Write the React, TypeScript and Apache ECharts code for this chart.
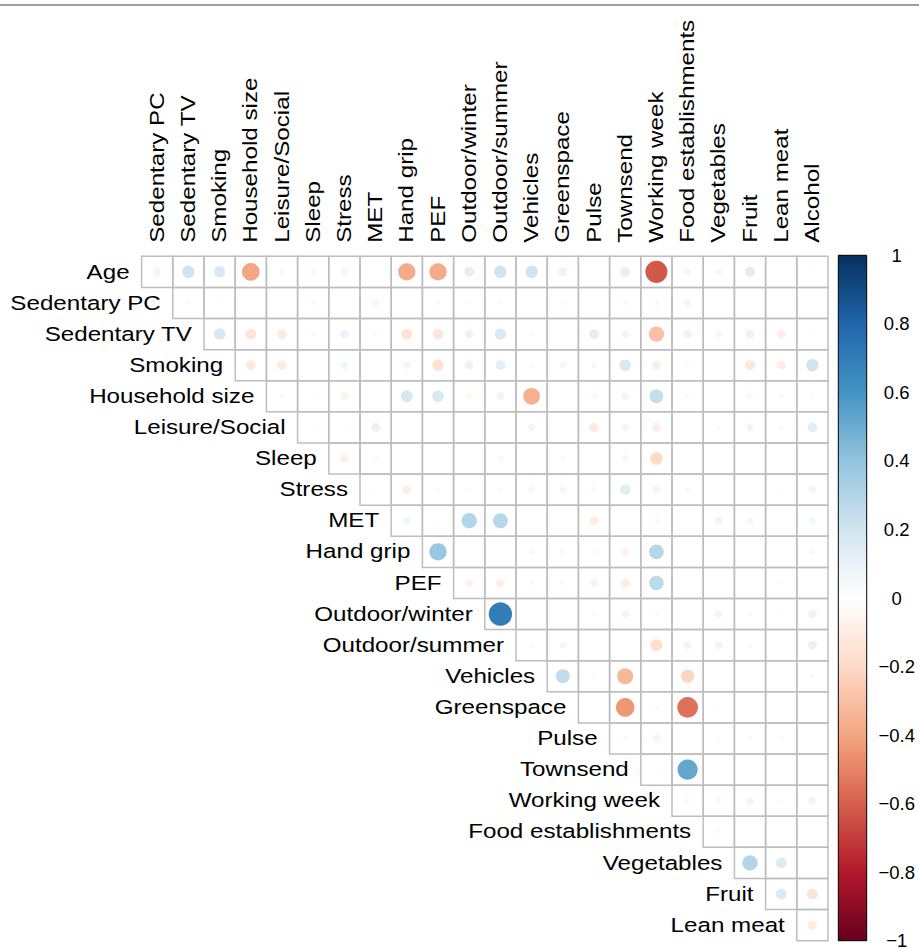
import React, { useEffect, useRef } from "react";
import * as echarts from "echarts";

// Variable names: rows run down the left, columns across the top.
const rowLabels = [
  "Age", "Sedentary PC", "Sedentary TV", "Smoking", "Household size", "Leisure/Social",
  "Sleep", "Stress", "MET", "Hand grip", "PEF", "Outdoor/winter", "Outdoor/summer",
  "Vehicles", "Greenspace", "Pulse", "Townsend", "Working week", "Food establishments",
  "Vegetables", "Fruit", "Lean meat",
];
const columnLabels = [
  "Sedentary PC", "Sedentary TV", "Smoking", "Household size", "Leisure/Social", "Sleep",
  "Stress", "MET", "Hand grip", "PEF", "Outdoor/winter", "Outdoor/summer", "Vehicles",
  "Greenspace", "Pulse", "Townsend", "Working week", "Food establishments", "Vegetables",
  "Fruit", "Lean meat", "Alcohol",
];

// Upper-triangle correlations: row i holds columns i..21.
const age = [-0.08, 0.2, 0.17, -0.4, 0.05, 0.05, -0.07, 0.02, -0.38, -0.38, 0.12, 0.2, 0.2, 0.09, 0.01, -0.12, -0.62, -0.07, 0.06, 0.13, 0.02, 0.02];
const sedentaryPC = [-0.03, 0.02, 0.01, 0.01, -0.04, 0.01, -0.06, 0.01, 0.04, -0.03, -0.03, 0, -0.04, 0.01, 0.04, 0.04, 0.07, 0.01, 0, 0.01, 0.01];
const sedentaryTV = [0.17, -0.15, -0.12, 0.04, 0.09, -0.03, -0.15, -0.14, 0.09, 0.16, -0.03, 0.01, 0.12, 0.07, -0.3, -0.09, -0.06, -0.1, -0.1, 0.02];
const smoking = [-0.12, -0.11, 0.01, 0.07, -0.01, -0.07, -0.16, 0.09, 0.12, -0.03, -0.06, 0.05, 0.17, -0.1, 0.03, 0.01, -0.13, -0.1, 0.2];
const householdSize = [-0.03, -0.02, -0.08, 0, 0.18, 0.17, -0.05, -0.08, -0.36, 0, -0.05, -0.08, 0.24, -0.03, 0.01, -0.05, -0.04, -0.02];
const leisureSocial = [0.02, -0.02, 0.1, 0, 0.01, 0, 0, 0.07, 0, -0.11, -0.07, -0.1, 0, 0.03, 0.07, 0.04, 0.12];
const sleep = [-0.09, -0.04, 0.01, 0.01, 0, 0.05, 0.02, 0.04, 0.01, -0.06, -0.2, 0.01, 0, 0, 0, 0.01];
const stress = [0.02, -0.09, -0.03, -0.03, -0.03, -0.06, -0.06, 0.05, 0.14, -0.08, 0.04, 0.01, 0.01, 0.02, -0.07];
const met = [0.07, 0.02, 0.3, 0.28, 0.01, 0.01, -0.1, 0, 0.04, 0.01, 0.08, 0.06, 0.01, 0.06];
const handGrip = [0.38, 0, 0, 0.04, 0.05, -0.04, -0.08, 0.28, -0.02, 0, 0.01, 0.02, 0.04];
const pef = [-0.08, -0.09, 0.04, 0.04, -0.08, -0.1, 0.27, 0, 0.01, 0, 0.03, 0.01];
const outdoorWinter = [0.7, 0, 0.01, -0.02, 0.07, -0.03, 0.01, 0.07, 0.04, -0.02, 0.09];
const outdoorSummer = [0.04, 0.06, 0.01, 0.01, -0.18, -0.08, 0.08, 0.04, 0, 0.1];
const vehicles = [0.25, -0.02, -0.33, 0.01, -0.22, 0, 0, 0.01, 0.04];
const greenspace = [0.01, -0.44, -0.03, -0.55, -0.02, 0, 0, 0.01];
const pulse = [0.04, -0.07, 0.01, -0.03, -0.04, -0.04, 0.01];
const townsend = [0.02, 0.52, 0.01, 0.01, 0.01, 0.01];
const workingWeek = [0.04, -0.05, -0.07, -0.03, 0.08];
const foodEstablishments = [0.03, 0.01, 0.01, 0.01];
const vegetables = [0.3, 0.15, -0.01];
const fruit = [0.15, -0.15];
const leanMeat = [-0.11];

const correlationRows = [
  age, sedentaryPC, sedentaryTV, smoking, householdSize, leisureSocial, sleep, stress,
  met, handGrip, pef, outdoorWinter, outdoorSummer, vehicles, greenspace, pulse,
  townsend, workingWeek, foodEstablishments, vegetables, fruit, leanMeat,
];

// Diverging red-blue palette from -1 to 1.
const palette = [
  "#67001F", "#B2182B", "#D6604D", "#F4A582", "#FDDBC7", "#FFFFFF",
  "#D1E5F0", "#92C5DE", "#4393C3", "#2166AC", "#053061",
];
const colorbarMin = -1;
const colorbarMax = 1;
const colorbarStep = 0.2;

const FONT = "'Liberation Sans', Arial, Helvetica, sans-serif";
const LABEL_SIZE = 19.5;
const LABEL_STRETCH = 1.24;

function formatTick(v: number): string {
  const r = Math.round(v * 10) / 10;
  if (r === 0) return "0";
  return r < 0 ? "\u2212" + String(-r) : String(r);
}

export default function App() {
  const ref = useRef<HTMLDivElement>(null);

  useEffect(() => {
    if (!ref.current) return;
    const chart = echarts.init(ref.current, undefined, { renderer: "svg" });

    const cells: number[][] = [];
    correlationRows.forEach((vals, r) => {
      vals.forEach((v, k) => cells.push([r + k, r, v]));
    });

    const cellSeries = {
      type: "custom",
      xAxisIndex: 0,
      yAxisIndex: 0,
      clip: false,
      data: cells,
      encode: { x: 0, y: 1 },
      renderItem: (params: any, api: any) => {
        const c = api.value(0);
        const r = api.value(1);
        const v = api.value(2);
        const p = api.coord([c, r]);
        const s = api.size([1, 1]);
        const w = s[0];
        const h = s[1];
        const rad = 0.45 * Math.sqrt(Math.abs(v)) * Math.min(w, h);
        return {
          type: "group",
          children: [
            {
              type: "rect",
              shape: { x: p[0] - w / 2, y: p[1] - h / 2, width: w, height: h },
              style: { fill: "none", stroke: "#BEBEBE", lineWidth: 1.5 },
            },
            {
              type: "circle",
              shape: { cx: p[0], cy: p[1], r: rad },
              style: { fill: api.visual("color") },
            },
          ],
        };
      },
    };

    const rowLabelSeries = {
      type: "custom",
      xAxisIndex: 0,
      yAxisIndex: 0,
      clip: false,
      silent: true,
      data: rowLabels.map((_, i) => [i, i]),
      renderItem: (params: any, api: any) => {
        const i = params.dataIndex;
        const p = api.coord([api.value(0), api.value(1)]);
        const w = api.size([1, 1])[0];
        return {
          type: "text",
          x: p[0] - w / 2 - 12,
          y: p[1],
          scaleX: LABEL_STRETCH,
          style: {
            text: rowLabels[i],
            fontFamily: FONT,
            fontSize: LABEL_SIZE,
            fill: "#000",
            align: "right",
            verticalAlign: "middle",
          },
        };
      },
    };

    const columnLabelSeries = {
      type: "custom",
      xAxisIndex: 0,
      yAxisIndex: 0,
      clip: false,
      silent: true,
      data: columnLabels.map((_, i) => [i, 0]),
      renderItem: (params: any, api: any) => {
        const i = params.dataIndex;
        const p = api.coord([api.value(0), api.value(1)]);
        const h = api.size([1, 1])[1];
        return {
          type: "text",
          x: p[0],
          y: p[1] - h / 2 - 13.5,
          rotation: Math.PI / 2,
          scaleX: LABEL_STRETCH,
          style: {
            text: columnLabels[i],
            fontFamily: FONT,
            fontSize: LABEL_SIZE,
            fill: "#000",
            align: "left",
            verticalAlign: "middle",
          },
        };
      },
    };

    const colorbarSeries = {
      type: "custom",
      xAxisIndex: 1,
      yAxisIndex: 1,
      clip: false,
      silent: true,
      data: [[0, colorbarMin, 1, colorbarMax]],
      renderItem: (params: any, api: any) => {
        const tl = api.coord([api.value(0), api.value(3)]);
        const br = api.coord([api.value(2), api.value(1)]);
        const stops = palette
          .slice()
          .reverse()
          .map((color, k) => ({ offset: k / (palette.length - 1), color }));
        return {
          type: "rect",
          shape: { x: tl[0], y: tl[1], width: br[0] - tl[0], height: br[1] - tl[1] },
          style: {
            fill: new echarts.graphic.LinearGradient(0, 0, 0, 1, stops),
            stroke: "#000",
            lineWidth: 1,
          },
        };
      },
    };

    chart.setOption({
      animation: false,
      backgroundColor: "#fff",
      grid: [
        { left: 141.6, top: 256.3, width: 686.4, height: 684.4 },
        { left: 838.3, top: 255.3, width: 28.4, height: 685.4 },
      ],
      xAxis: [
        { type: "category", data: columnLabels, position: "top", show: false, gridIndex: 0 },
        { type: "value", min: 0, max: 1, show: false, gridIndex: 1 },
      ],
      yAxis: [
        { type: "category", data: rowLabels, inverse: true, show: false, gridIndex: 0 },
        {
          type: "value",
          gridIndex: 1,
          min: colorbarMin,
          max: colorbarMax,
          interval: colorbarStep,
          position: "right",
          axisLine: { show: false },
          splitLine: { show: false },
          axisTick: { show: true, inside: false, length: 4, lineStyle: { color: "#000", width: 1 } },
          axisLabel: {
            margin: 30,
            align: "center",
            color: "#000",
            fontFamily: FONT,
            fontSize: 18.5,
            formatter: formatTick,
          },
        },
      ],
      visualMap: {
        show: false,
        type: "continuous",
        min: colorbarMin,
        max: colorbarMax,
        dimension: 2,
        seriesIndex: 0,
        inRange: { color: palette },
      },
      graphic: [
        {
          type: "line",
          shape: { x1: 0, y1: 5, x2: 919, y2: 5 },
          style: { stroke: "#7f7f7f", lineWidth: 1.5 },
        },
      ],
      series: [cellSeries, rowLabelSeries, columnLabelSeries, colorbarSeries],
    });

    return () => chart.dispose();
  }, []);

  return (
    <div
      ref={ref}
      style={{ position: "absolute", left: 0, top: 0, width: 919, height: 951, background: "#fff" }}
    />
  );
}
